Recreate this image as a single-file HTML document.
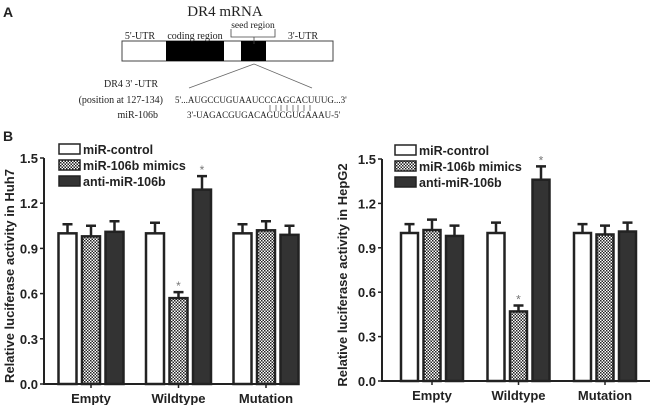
<!DOCTYPE html>
<html><head><meta charset="utf-8"><style>
body{margin:0;background:#fff;width:650px;height:405px;overflow:hidden}
svg{display:block}
.s{font-family:"Liberation Serif",serif;fill:#222}
.b{font-family:"Liberation Sans",sans-serif;font-weight:bold;fill:#222}
</style></head><body>
<svg id="root" width="650" height="405" xmlns="http://www.w3.org/2000/svg">
<defs>
<pattern id="chk" width="3" height="3" patternUnits="userSpaceOnUse">
<rect width="3" height="3" fill="#fff"/><rect width="1.5" height="1.5" fill="#222"/><rect x="1.5" y="1.5" width="1.5" height="1.5" fill="#222"/>
</pattern>
</defs>
<g>
<text x="3" y="17" class="b" font-size="14">A</text>
<text x="225" y="16" class="s" font-size="15" text-anchor="middle">DR4 mRNA</text>
<rect x="122" y="41" width="211" height="20" fill="#fff" stroke="#444"/>
<rect x="166" y="41" width="58" height="20" fill="#000"/>
<rect x="241" y="41" width="25" height="20" fill="#000"/>
<text x="140" y="39" class="s" font-size="10" text-anchor="middle">5'-UTR</text>
<text x="195" y="39" class="s" font-size="10" text-anchor="middle">coding region</text>
<text x="303" y="39" class="s" font-size="10" text-anchor="middle">3'-UTR</text>
<text x="253" y="28" class="s" font-size="9.5" text-anchor="middle">seed region</text>
<path d="M231 29V37H275V29M254 37V44" fill="none" stroke="#444" stroke-width="0.8"/>
<path d="M254 64L189 88M254 64L312 88" fill="none" stroke="#666" stroke-width="0.8"/>
<text x="158" y="87" class="s" font-size="10" text-anchor="end">DR4 3' -UTR</text>
<text x="163" y="103" class="s" font-size="10" text-anchor="end">(position at 127-134)</text>
<text x="158" y="118" class="s" font-size="10" text-anchor="end">miR-106b</text>
<text x="175" y="103" class="s" font-size="9">5'...AUGCCUGUAAUCCCAGCACUUUG...3'</text>
<text x="187" y="118" class="s" font-size="9">3'-UAGACGUGACAGUCGUGAAAU-5'</text>
<path d="M270 105v6M276 105v6M281 105v6M287 105v6M293 105v6M298 105v6M304 105v6M310 105v6" stroke="#444" stroke-width="0.7"/>
</g>
<text x="3" y="141" class="b" font-size="14">B</text>
<g id="c1"></g>
<g id="c2"></g>
</svg>
<script>
const categories=["Empty","Wildtype","Mutation"];
const seriesNames=["miR-control","miR-106b mimics","anti-miR-106b"];
const huh7Values=[[1.00,0.98,1.01],[1.00,0.57,1.29],[1.00,1.02,0.99]];
const huh7Errors=[[0.06,0.07,0.07],[0.07,0.04,0.09],[0.06,0.06,0.06]];
const huh7Sig=[[false,false,false],[false,true,true],[false,false,false]];
const hepg2Values=[[1.00,1.02,0.98],[1.00,0.47,1.36],[1.00,0.99,1.01]];
const hepg2Errors=[[0.06,0.07,0.07],[0.07,0.04,0.09],[0.06,0.06,0.06]];
const hepg2Sig=[[false,false,false],[false,true,true],[false,false,false]];
const yTicks=[0.0,0.3,0.6,0.9,1.2,1.5];
const NS="http://www.w3.org/2000/svg";
function mk(p,t,a,txt){const e=document.createElementNS(NS,t);for(const k in a)e.setAttribute(k,a[k]);if(txt!==undefined)e.textContent=txt;p.appendChild(e);return e;}
function draw(g,cfg,vals,errs,sig){
  const y=v=>cfg.y0-(v/1.5)*(cfg.y0-cfg.y15);
  const fills=["#fff","url(#chk)","#333"];
  const ax=mk(g,'path',{d:`M${cfg.ax} ${cfg.y15}V${cfg.y0}H${cfg.xe}`,fill:'none',stroke:'#222','stroke-width':2});
  
  
  yTicks.forEach(t=>{
    mk(g,'line',{x1:cfg.ax-4,x2:cfg.ax,y1:y(t),y2:y(t),stroke:'#222','stroke-width':1.5});
    const tl=mk(g,'text',{x:cfg.ax-6,y:y(t)+5,class:'b','font-size':13,'text-anchor':'end'},t.toFixed(1));
    
    
  });
  const yt=mk(g,'text',{x:0,y:0,class:'b','font-size':13,'text-anchor':'middle',transform:`translate(${cfg.tx},${(cfg.y0+cfg.y15)/2+5}) rotate(-90)`},cfg.title);
  
  
  categories.forEach((c,i)=>{
    const cx=cfg.c0+i*cfg.gs;
    const cl=mk(g,'text',{x:cx,y:cfg.y0+19,class:'b','font-size':13,'text-anchor':'middle'},c);
    
    
    mk(g,'line',{x1:cx,x2:cx,y1:cfg.y0,y2:cfg.y0+4,stroke:'#222','stroke-width':1.5});
    vals[i].forEach((v,j)=>{
      const bx=cx+(j-1)*cfg.bs-cfg.bw/2;
      const top=y(v+errs[i][j]);
      mk(g,'path',{d:`M${bx+cfg.bw/2} ${y(v)}V${top}M${bx+cfg.bw/2-5} ${top}H${bx+cfg.bw/2+5}`,stroke:'#222','stroke-width':2.5,fill:'none'});
      const r=mk(g,'rect',{x:bx,y:y(v),width:cfg.bw,height:cfg.y0-y(v),fill:fills[j],stroke:'#222','stroke-width':2.5});
      
      
      if(sig[i][j]){const s=mk(g,'text',{x:bx+cfg.bw/2,y:top-2,'font-family':'Liberation Sans','font-size':12,fill:'#777','text-anchor':'middle'},'*');
        
        }
    });
  });
  seriesNames.forEach((n,j)=>{
    const ly=cfg.ly+j*16;
    const lb=mk(g,'rect',{x:cfg.lx,y:ly,width:21,height:10,fill:fills[j],stroke:'#222','stroke-width':1.5});
    
    
    const lt=mk(g,'text',{x:cfg.lx+24,y:ly+10,class:'b','font-size':12.5},n);
    
    
  });
}
draw(document.getElementById('c1'),{ax:44,xe:297,y0:384,y15:158,c0:91,gs:87.5,bs:23.5,bw:18,tx:14,title:'Relative luciferase activity in Huh7',lx:59,ly:144},huh7Values,huh7Errors,huh7Sig);
draw(document.getElementById('c2'),{ax:382,xe:650,y0:381,y15:159,c0:432,gs:86.5,bs:22.5,bw:17,tx:347,title:'Relative luciferase activity in HepG2',lx:395,ly:145},hepg2Values,hepg2Errors,hepg2Sig);
</script>
</body></html>
